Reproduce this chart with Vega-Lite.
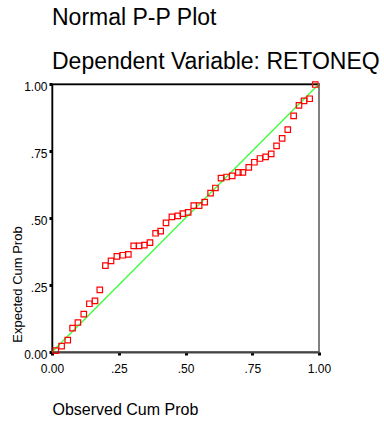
{
  "$schema": "https://vega.github.io/schema/vega-lite/v6.json",
  "autosize": "none",
  "width": 267,
  "height": 268,
  "padding": {"top": 84, "left": 52, "right": 65, "bottom": 70},
  "background": "white",
  "config": {
    "view": {"stroke": "#808080", "strokeWidth": 2},
    "font": "Liberation Sans",
    "axis": {"grid": false, "labelFlush": false, "labelFont": "Liberation Sans", "titleFont": "Liberation Sans", "labelColor": "black", "titleColor": "black", "titleFontWeight": "normal"}
  },
  "title": {
    "text": ["Normal P-P Plot", "Dependent Variable: RETONEQ"],
    "anchor": "start",
    "frame": "group",
    "font": "Liberation Sans",
    "fontSize": 23,
    "fontWeight": "normal",
    "color": "black",
    "lineHeight": 44,
    "offset": 5
  },
  "datasets": {
    "pts": [
      {"obs": 0.014, "exp": 0.005},
      {"obs": 0.036, "exp": 0.022},
      {"obs": 0.059, "exp": 0.044},
      {"obs": 0.077, "exp": 0.089},
      {"obs": 0.097, "exp": 0.110},
      {"obs": 0.119, "exp": 0.141},
      {"obs": 0.140, "exp": 0.180},
      {"obs": 0.161, "exp": 0.191},
      {"obs": 0.179, "exp": 0.232},
      {"obs": 0.200, "exp": 0.322},
      {"obs": 0.221, "exp": 0.340},
      {"obs": 0.243, "exp": 0.357},
      {"obs": 0.265, "exp": 0.361},
      {"obs": 0.286, "exp": 0.364},
      {"obs": 0.306, "exp": 0.396},
      {"obs": 0.326, "exp": 0.396},
      {"obs": 0.346, "exp": 0.399},
      {"obs": 0.367, "exp": 0.408},
      {"obs": 0.388, "exp": 0.443},
      {"obs": 0.407, "exp": 0.451},
      {"obs": 0.427, "exp": 0.482},
      {"obs": 0.449, "exp": 0.504},
      {"obs": 0.471, "exp": 0.508},
      {"obs": 0.490, "exp": 0.516},
      {"obs": 0.510, "exp": 0.521},
      {"obs": 0.531, "exp": 0.546},
      {"obs": 0.551, "exp": 0.546},
      {"obs": 0.572, "exp": 0.559},
      {"obs": 0.594, "exp": 0.593},
      {"obs": 0.612, "exp": 0.612},
      {"obs": 0.633, "exp": 0.649},
      {"obs": 0.654, "exp": 0.653},
      {"obs": 0.675, "exp": 0.657},
      {"obs": 0.698, "exp": 0.670},
      {"obs": 0.715, "exp": 0.670},
      {"obs": 0.737, "exp": 0.689},
      {"obs": 0.758, "exp": 0.708},
      {"obs": 0.779, "exp": 0.722},
      {"obs": 0.800, "exp": 0.728},
      {"obs": 0.821, "exp": 0.739},
      {"obs": 0.841, "exp": 0.769},
      {"obs": 0.862, "exp": 0.797},
      {"obs": 0.883, "exp": 0.830},
      {"obs": 0.905, "exp": 0.881},
      {"obs": 0.925, "exp": 0.920},
      {"obs": 0.944, "exp": 0.937},
      {"obs": 0.965, "exp": 0.945},
      {"obs": 0.986, "exp": 0.998}
    ],
    "diag": [
      {"obs": 0, "exp": 0},
      {"obs": 1, "exp": 1}
    ]
  },
  "layer": [
    {
      "data": {"name": "diag"},
      "mark": {"type": "line", "color": "#33ff33", "strokeWidth": 1.2},
      "encoding": {
        "x": {"field": "obs", "type": "quantitative", "scale": {"domain": [0, 1], "nice": false, "zero": false},
          "axis": {"orient": "top", "labels": false, "ticks": false, "title": null, "domainColor": "black", "domainWidth": 1.5}},
        "y": {"field": "exp", "type": "quantitative", "scale": {"domain": [0, 1], "nice": false, "zero": false},
          "axis": {"orient": "left", "values": [0, 0.25, 0.5, 0.75, 1],
            "labelExpr": "datum.value == 0 || datum.value == 1 ? format(datum.value, '.2f') : slice(format(datum.value, '.2f'), 1)",
            "labelFontSize": 12, "labelPadding": 2, "labelOffset": 2,
            "tickSize": 3, "tickWidth": 3, "tickColor": "black",
            "domainColor": "black", "domainWidth": 1.5,
            "title": "Expected Cum Prob", "titleFontSize": 13, "titleX": -35, "titleY": 200, "titleBaseline": "middle", "titleAngle": 270}}
      }
    },
    {
      "data": {"name": "pts"},
      "mark": {"type": "point", "shape": "square", "filled": false, "size": 30, "stroke": "#ff0000", "strokeWidth": 1.2, "opacity": 1},
      "encoding": {
        "x": {"field": "obs", "type": "quantitative", "scale": {"domain": [0, 1], "nice": false, "zero": false},
          "axis": {"orient": "bottom", "values": [0, 0.25, 0.5, 0.75, 1],
            "labelExpr": "datum.value == 0 || datum.value == 1 ? format(datum.value, '.2f') : slice(format(datum.value, '.2f'), 1)",
            "labelFontSize": 12, "labelPadding": 8,
            "tickSize": 3, "tickWidth": 3, "tickColor": "black",
            "domainColor": "#444444", "domainWidth": 2,
            "title": "Observed Cum Prob", "titleFontSize": 16, "titleAnchor": "start", "titleAlign": "left", "titleX": 0, "titleY": 62, "titleBaseline": "alphabetic"}},
        "y": {"field": "exp", "type": "quantitative"}
      }
    }
  ],
  "resolve": {"axis": {"x": "independent"}}
}
